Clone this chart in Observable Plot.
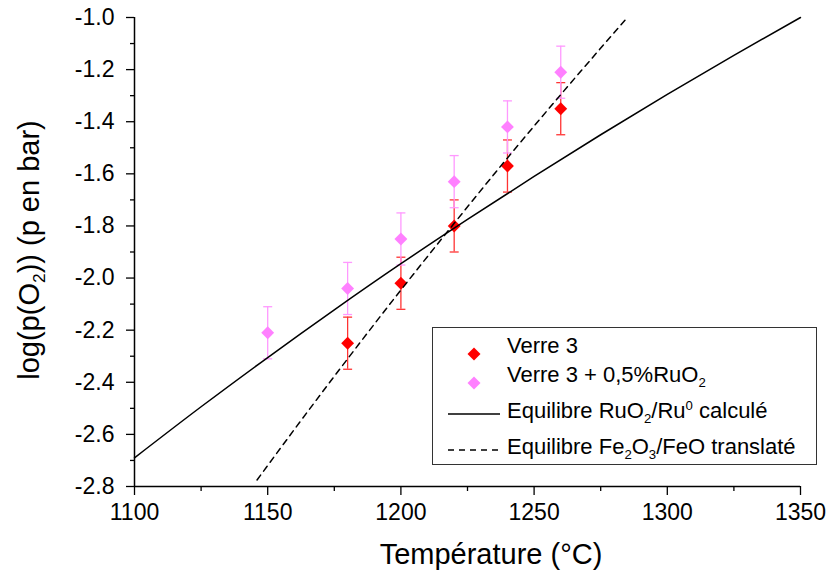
<!DOCTYPE html>
<html>
<head>
<meta charset="utf-8">
<script src="https://cdn.jsdelivr.net/npm/d3@7"></script>
<script src="https://cdn.jsdelivr.net/npm/@observablehq/plot@0.6"></script>
<style>
  html, body { margin: 0; padding: 0; background: white; }
  #fig { position: relative; width: 827px; height: 575px; font-family: "Liberation Sans", Arial, sans-serif; color: black; }
  #fig svg { position: absolute; left: 0; top: 0; }
  .title { position: absolute; white-space: nowrap; line-height: 1; }
  sub, sup { font-size: 60%; line-height: 0; }
  #legend { position: absolute; left: 432px; top: 327px; width: 385px; height: 138px; border: 1px solid #333; background: white; box-sizing: border-box; }
  .lrow { position: absolute; left: 74px; font-size: 22px; white-space: nowrap; line-height: 1; transform: translateY(-50%); }
  .lsw { position: absolute; }
</style>
</head>
<body>
<div id="fig"></div>
<script>
// Tick values
const xTicks = [1100, 1150, 1200, 1250, 1300, 1350];
const xMinor = [1125, 1175, 1225, 1275, 1325];
const yTicks = [-2.8, -2.6, -2.4, -2.2, -2.0, -1.8, -1.6, -1.4, -1.2, -1.0];
const yMinor = [-2.7, -2.5, -2.3, -2.1, -1.9, -1.7, -1.5, -1.3, -1.1];

// Verre 3 (red)
const verreT = [1180, 1200, 1220, 1240, 1260];
const verreV = [-2.25, -2.02, -1.80, -1.57, -1.35];
const verreErr = [0.1, 0.1, 0.1, 0.1, 0.1];

// Verre 3 + 0,5%RuO2 (pink)
const ruT = [1150, 1180, 1200, 1220, 1240, 1260];
const ruV = [-2.21, -2.04, -1.85, -1.63, -1.42, -1.21];
const ruErr = [0.1, 0.1, 0.1, 0.1, 0.1, 0.1];

// Equilibre RuO2/Ru0 calculé (solid)
const eqRuT = [1100, 1125, 1150, 1175, 1200, 1225, 1250, 1275, 1300, 1325, 1350];
const eqRuV = [-2.69, -2.494, -2.305, -2.122, -1.945, -1.775, -1.610, -1.450, -1.295, -1.145, -1.00];

// Equilibre Fe2O3/FeO translaté (dashed)
const eqFeT = [1146, 1160, 1180, 1200, 1220, 1240, 1260, 1285];
const eqFeV = [-2.775, -2.581, -2.31, -2.046, -1.79, -1.539, -1.296, -1.00];

const verre = verreT.map((t, i) => ({T: t, v: verreV[i], e: verreErr[i]}));
const ru = ruT.map((t, i) => ({T: t, v: ruV[i], e: ruErr[i]}));
const eqRu = eqRuT.map((t, i) => ({T: t, v: eqRuV[i]}));
const eqFe = eqFeT.map((t, i) => ({T: t, v: eqFeV[i]}));

const cap = {draw(ctx) { ctx.moveTo(-4.5, 0); ctx.lineTo(4.5, 0); }};

function errMarks(data, barColor, dotColor) {
  return [
    Plot.ruleX(data, {x: "T", y1: d => d.v - d.e, y2: d => d.v + d.e, stroke: barColor, strokeWidth: 1.3}),
    Plot.dot(data, {x: "T", y: d => d.v + d.e, symbol: cap, stroke: barColor, fill: "none", strokeWidth: 1.3}),
    Plot.dot(data, {x: "T", y: d => d.v - d.e, symbol: cap, stroke: barColor, fill: "none", strokeWidth: 1.3}),
    Plot.dot(data, {x: "T", y: "v", symbol: "diamond2", r: 5.8, fill: dotColor, stroke: "none"})
  ];
}

const chart = Plot.plot({
  width: 827,
  height: 575,
  marginLeft: 134,
  marginRight: 27,
  marginTop: 17,
  marginBottom: 89,
  style: {fontFamily: '"Liberation Sans", Arial, sans-serif', fontSize: "23px", color: "black", background: "white", overflow: "visible"},
  x: {domain: [1100, 1350]},
  y: {domain: [-2.8, -1.0]},
  marks: [
    Plot.axisX(xTicks, {tickSize: 9, tickPadding: 8, tickFormat: d => String(d), label: null, fontSize: 23, strokeWidth: 1.3}),
    Plot.axisX(xMinor, {tickSize: 5, tickFormat: () => "", label: null, strokeWidth: 1.3}),
    Plot.axisY(yTicks, {tickSize: 8, tickPadding: 12, tickFormat: d => d.toFixed(1), label: null, fontSize: 23, strokeWidth: 1.3}),
    Plot.axisY(yMinor, {tickSize: 4, tickFormat: () => "", label: null, strokeWidth: 1.3}),
    Plot.ruleX([1100], {stroke: "black", strokeWidth: 1.5}),
    Plot.ruleY([-2.8], {stroke: "black", strokeWidth: 1.5}),
    ...errMarks(verre, "#ff3333", "#ff0000"),
    ...errMarks(ru, "#ff99ff", "#ff80ff"),
    Plot.line(eqRu, {x: "T", y: "v", stroke: "black", strokeWidth: 1.5, curve: "monotone-x"}),
    Plot.line(eqFe, {x: "T", y: "v", stroke: "black", strokeWidth: 1.5, strokeDasharray: "6,5", curve: "monotone-x"})
  ]
});

const fig = document.getElementById("fig");
fig.appendChild(chart);

const xt = document.createElement("div");
xt.className = "title";
xt.style.fontSize = "29px";
xt.style.left = "491px"; xt.style.top = "540px"; xt.style.transform = "translateX(-50%)";
xt.innerHTML = "Température (°C)";
fig.appendChild(xt);

const yt = document.createElement("div");
yt.className = "title";
yt.style.fontSize = "29px";
yt.style.left = "29px"; yt.style.top = "250px";
yt.style.transform = "translate(-50%, -50%) rotate(-90deg)";
yt.innerHTML = "log(p(O<sub>2</sub>)) (p en bar)";
fig.appendChild(yt);

const lg = document.createElement("div");
lg.id = "legend";
const rows = [
  {y: 18, label: "Verre 3", sw: '<svg width="16" height="16"><path d="M8,1.5L14.5,8L8,14.5L1.5,8Z" fill="#ff0000"/></svg>', sx: 33},
  {y: 47, label: "Verre 3 + 0,5%RuO<sub>2</sub>", sw: '<svg width="16" height="16"><path d="M8,1.5L14.5,8L8,14.5L1.5,8Z" fill="#ff80ff"/></svg>', sx: 33},
  {y: 83, label: "Equilibre RuO<sub>2</sub>/Ru<sup>0</sup> calculé", sw: '<svg width="52" height="6"><line x1="0" y1="3" x2="52" y2="3" stroke="black" stroke-width="1.5"/></svg>', sx: 15},
  {y: 119, label: "Equilibre Fe<sub>2</sub>O<sub>3</sub>/FeO translaté", sw: '<svg width="52" height="6"><line x1="0" y1="3" x2="52" y2="3" stroke="black" stroke-width="1.5" stroke-dasharray="6,5"/></svg>', sx: 15}
];
for (const r of rows) {
  const s = document.createElement("div");
  s.className = "lsw";
  s.style.left = r.sx + "px";
  s.style.top = r.y + "px";
  s.style.transform = "translateY(-50%)";
  s.style.lineHeight = "0";
  s.innerHTML = r.sw;
  lg.appendChild(s);
  const t = document.createElement("div");
  t.className = "lrow";
  t.style.top = r.y + "px";
  t.innerHTML = r.label;
  lg.appendChild(t);
}
fig.appendChild(lg);
</script>
</body>
</html>
